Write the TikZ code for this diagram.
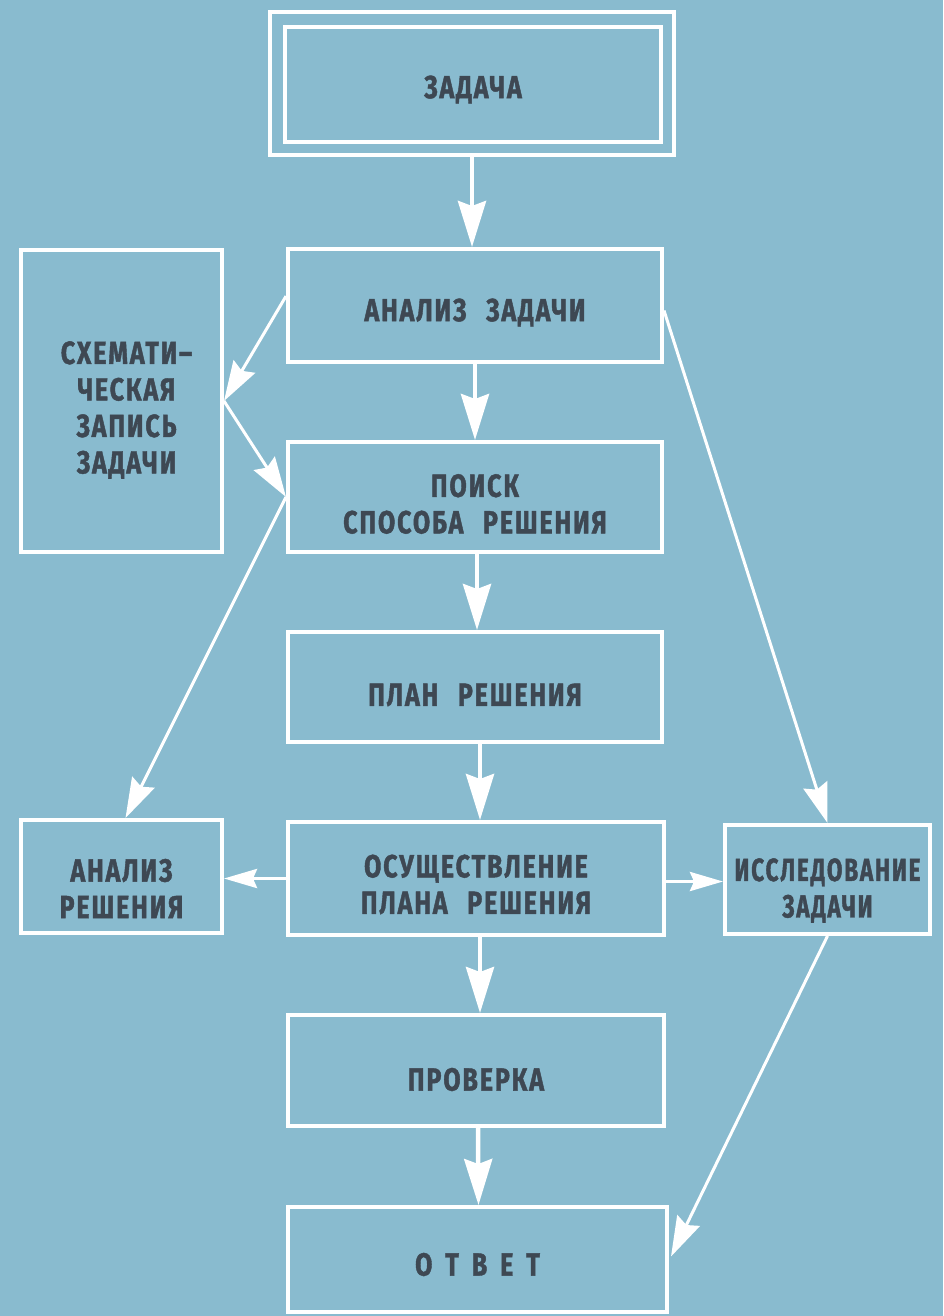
\documentclass[tikz,border=0pt]{standalone}
\usepackage{fontspec}
\setmainfont{Fira Sans}[FakeStretch=0.78,LetterSpace=6,WordSpace=2.5,BoldFeatures={FakeBold=1.3}]
\newfontfamily\narrowfont{Fira Sans}[FakeStretch=0.7,LetterSpace=6,WordSpace=2.5,BoldFeatures={FakeBold=1.3}]
\usetikzlibrary{arrows.meta,calc}
\definecolor{bg}{HTML}{89BBCF}
\definecolor{txt}{HTML}{3E4853}
\begin{document}
\begin{tikzpicture}[x=1pt,y=-1pt,
  lbl/.style={font=\fontsize{32}{36.5}\selectfont\bfseries,text=txt,align=center,inner sep=0pt},
  box/.style={draw=white,line width=4pt,inner sep=0pt,outer sep=2pt},
  bigarrow/.style={white,line width=4.5pt,-{Stealth[length=46pt,width=28pt,inset=5pt]}},
  diagarrow/.style={white,line width=3pt,-{Stealth[length=40pt,width=25pt,inset=5pt]}},
  sidearrow/.style={white,line width=3.5pt,-{Stealth[length=33pt,width=19pt,inset=4pt]}}]
\fill[bg] (0,0) rectangle (943,1316);
\useasboundingbox (0,0) rectangle (943,1316);
% boxes
\node[box,minimum width=404pt,minimum height=143pt] (zadout) at (472,83.5) {};
\node[box,minimum width=376pt,minimum height=115pt] (zad) at (473,84.5) {};
\node[box,minimum width=374pt,minimum height=113pt] (an) at (475,305.5) {};
\node[box,minimum width=201pt,minimum height=302pt] (schem) at (121.5,401) {};
\node[box,minimum width=374pt,minimum height=110pt] (poisk) at (475,497) {};
\node[box,minimum width=374pt,minimum height=110pt] (plan) at (475,687) {};
\node[box,minimum width=376pt,minimum height=113pt] (osush) at (476,878.5) {};
\node[box,minimum width=201pt,minimum height=113pt] (anres) at (121.5,876.5) {};
\node[box,minimum width=205pt,minimum height=109pt] (issl) at (827.5,879.5) {};
\node[box,minimum width=376pt,minimum height=111pt] (prov) at (476,1070.5) {};
\node[box,minimum width=379pt,minimum height=105pt] (otvet) at (477.5,1259.5) {};
% texts
\node[lbl] (zadtxt) at ($(zad.center)+(0,5)$) {ЗАДАЧА};
\node[lbl] (antxt) at ($(an.center)+(0,7)$) {АНАЛИЗ ЗАДАЧИ};
\node[lbl] (schemtxt) at ($(schem.center)+(5,9)$) {СХЕМАТИ–\\ЧЕСКАЯ\\ЗАПИСЬ\\ЗАДАЧИ};
\node[lbl] (poisktxt) at ($(poisk.center)+(0,7)$) {ПОИСК\\СПОСОБА РЕШЕНИЯ};
\node[lbl] (plantxt) at ($(plan.center)+(0,8)$) {ПЛАН РЕШЕНИЯ};
\node[lbl] (osushtxt) at ($(osush.center)+(0,6)$) {ОСУЩЕСТВЛЕНИЕ\\ПЛАНА РЕШЕНИЯ};
\node[lbl] (anrestxt) at ($(anres.center)+(0,12)$) {АНАЛИЗ\\РЕШЕНИЯ};
\node[lbl] (issltxt) at ($(issl.center)+(0,11)$) {\narrowfont\bfseries ИССЛЕДОВАНИЕ\\\narrowfont\bfseries ЗАДАЧИ};
\node[lbl] (provtxt) at ($(prov.center)+(0,9)$) {ПРОВЕРКА};
\node[lbl] (otvettxt) at ($(otvet.center)+(0,5)$) {О\hspace{13pt}Т\hspace{13pt}В\hspace{13pt}Е\hspace{13pt}Т};
% vertical arrows
\draw[bigarrow] (zadout.south) -- (zadout.south |- an.north);
\draw[bigarrow] (an.south) -- (poisk.north);
\draw[bigarrow] ($(poisk.south)+(2,0)$) -- ($(plan.north)+(2,0)$);
\draw[bigarrow] ($(plan.south)+(5,0)$) -- ($(plan.south |- osush.north)+(5,0)$);
\draw[bigarrow] ($(osush.south)+(4,0)$) -- ($(prov.north)+(4,0)$);
\draw[bigarrow] ($(prov.south)+(2,0)$) -- ($(otvet.north)+(1,0)$);
% diagonal arrows
\draw[diagarrow] ($(an.north west)!0.42!(an.south west)$) -- (schem.east);
\draw[diagarrow] (schem.east) -- (poisk.west);
\draw[diagarrow] (poisk.west) -- ($(anres.north)+(4,0)$);
\draw[diagarrow] ($(an.east)+(0,5)$) -- (issl.north);
\draw[diagarrow] (issl.south) -- ($(otvet.east)+(2,-3)$);
% side arrows
\draw[sidearrow] (osush.west) -- (osush.west -| anres.east);
\draw[sidearrow] ($(osush.east)+(0,3)$) -- ($(osush.east -| issl.west)+(0,3)$);
\end{tikzpicture}
\end{document}
